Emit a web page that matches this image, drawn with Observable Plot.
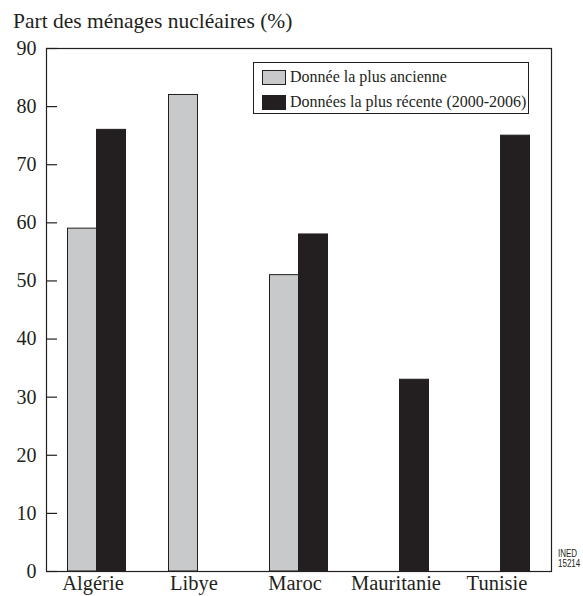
<!DOCTYPE html>
<html>
<head>
<meta charset="utf-8">
<script src="https://cdn.jsdelivr.net/npm/d3@7"></script>
<script src="https://cdn.jsdelivr.net/npm/@observablehq/plot@0.6"></script>
<style>
  body { margin: 0; background: #fff; }
  #wrap { position: relative; width: 583px; height: 596px; font-family: "Liberation Serif", "Times New Roman", serif; color: #231f20; overflow: hidden; }
  #title { position: absolute; left: 13px; top: 9px; font-size: 21.5px; line-height: 25px; white-space: nowrap; }
  #legend { position: absolute; left: 253px; top: 62px; width: 274px; height: 50px; border: 1px solid #231f20; background: #fff; font-size: 16px; }
  .row { position: absolute; left: 8px; display: flex; align-items: center; white-space: nowrap; }
  .sw { width: 22px; height: 13px; border: 1px solid #231f20; margin-right: 4px; }
  .ined { position: absolute; left: 558px; font-family: "Liberation Sans", sans-serif; font-size: 10px; line-height: 10px; color: #231f20; transform: scaleX(0.8); transform-origin: left top; white-space: nowrap; }
</style>
</head>
<body>
<div id="wrap">
  <div id="title">Part des ménages nucléaires (%)</div>
  <div id="chart"></div>
  <div id="legend">
    <div class="row" style="top:5px"><div class="sw" style="background:#c8c9cb"></div><span>Donnée la plus ancienne</span></div>
    <div class="row" style="top:30px"><div class="sw" style="background:#231f20"></div><span>Données la plus récente (2000-2006)</span></div>
  </div>
  <div class="ined" style="top:549px">INED</div>
  <div class="ined" style="top:559px">15214</div>
</div>
<script>
const countries = ["Algérie", "Libye", "Maroc", "Mauritanie", "Tunisie"];
const ancienne = [59, 82, 51, null, null];
const recente = [76, null, 58, 33, 75];
const yTicks = [0, 10, 20, 30, 40, 50, 60, 70, 80, 90];

const oldData = countries.map((c, i) => ({country: c, value: ancienne[i]})).filter(d => d.value != null);
const newData = countries.map((c, i) => ({country: c, value: recente[i]})).filter(d => d.value != null);

const chart = Plot.plot({
  width: 583,
  height: 596,
  marginLeft: 46,
  marginRight: 32,
  marginTop: 48,
  marginBottom: 25,
  style: {fontFamily: "'Liberation Serif', 'Times New Roman', serif", color: "#231f20", background: "transparent"},
  x: {domain: countries, padding: 0, label: null},
  y: {domain: [0, 90], label: null},
  marks: [
    Plot.barY(oldData, {x: "country", y: "value", fill: "#c8c9cb", stroke: "#231f20", strokeWidth: 1, insetLeft: 21.5, insetRight: 50.5}),
    Plot.barY(newData, {x: "country", y: "value", fill: "#231f20", stroke: "#231f20", strokeWidth: 1, insetLeft: 50.5, insetRight: 21.5}),
    Plot.frame({stroke: "#231f20", strokeWidth: 1.2}),
    Plot.axisY({ticks: yTicks, tickSize: -11, tickFormat: () => "", stroke: "#231f20", strokeWidth: 1.2}),
    Plot.axisY({ticks: yTicks, tickSize: 0, tickPadding: 10, fontSize: 20, label: null}),
    Plot.axisX({tickSize: 0, tickPadding: 4, fontSize: 20.5, dx: -4, label: null})
  ]
});
document.getElementById("chart").appendChild(chart);
</script>
</body>
</html>
